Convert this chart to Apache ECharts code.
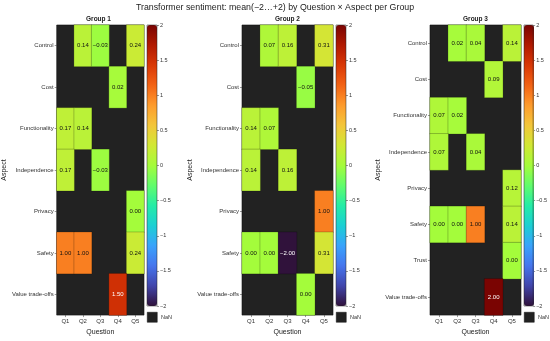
<!DOCTYPE html>
<html><head><meta charset="utf-8">
<script src="https://cdn.jsdelivr.net/npm/echarts@6/dist/echarts.min.js"></script>
<style>html,body{margin:0;padding:0;background:#fff}#c{width:550px;height:341px}</style>
</head><body><div id="c"></div>
<script>
const questions = ['Q1','Q2','Q3','Q4','Q5'];
const aspects12 = ['Control','Cost','Functionality','Independence','Privacy','Safety','Value trade-offs'];
const aspects3 = ['Control','Cost','Functionality','Independence','Privacy','Safety','Trust','Value trade-offs'];
const groupNames = ['Group 1','Group 2','Group 3'];
const cbTicks = [-2,-1.5,-1,-0.5,0,0.5,1,1.5,2];
// rows follow aspect order, columns Q1..Q5; null = NaN
const group1 = [
  [null,0.14,-0.03,null,0.24],
  [null,null,null,0.02,null],
  [0.17,0.14,null,null,null],
  [0.17,null,-0.03,null,null],
  [null,null,null,null,0.00],
  [1.00,1.00,null,null,0.24],
  [null,null,null,1.50,null]
];
const group2 = [
  [null,0.07,0.16,null,0.31],
  [null,null,null,-0.05,null],
  [0.14,0.07,null,null,null],
  [0.14,null,0.16,null,null],
  [null,null,null,null,1.00],
  [0.00,0.00,-2.00,null,0.31],
  [null,null,null,0.00,null]
];
const group3 = [
  [null,0.02,0.04,null,0.14],
  [null,null,null,0.09,null],
  [0.07,0.02,null,null,null],
  [0.07,null,0.04,null,null],
  [null,null,null,null,0.12],
  [0.00,0.00,1.00,null,0.14],
  [null,null,null,null,0.00],
  [null,null,null,2.00,null]
];
const turbo = ['#30123b','#4145ab','#4675ed','#39a2fc','#1bcfd4','#24eca6','#61fc6c','#a4fc3b','#d1e834','#f3c63a','#fe9b2d','#f36315','#d93806','#b11901','#7a0402'];

const FONT = 'Liberation Sans';
const groups = [group1, group2, group3];
const aspectsList = [aspects12, aspects12, aspects3];
const gridLeft = [53, 242, 430];
const gridW = 91, gridTop = 25, gridH = 297;
const cbLeft = [147, 336, 524], cbW = 10, cbH = 281;
const nameGaps = [45, 47, 47];

const fmt = v => (v < 0 ? '\u2212' : '') + Math.abs(v).toFixed(2);

const grids = [], xAxes = [], yAxes = [], series = [], visualMaps = [], titles = [], graphics = [];
titles.push({text:'Transformer sentiment: mean(\u22122\u2026+2) by Question \u00d7 Aspect per Group', left:'center', top:3, padding:0,
  textStyle:{fontFamily:FONT, fontSize:8.8, fontWeight:'normal', color:'#222'}});

for (let g = 0; g < 3; g++) {
  grids.push({left:gridLeft[g], top:gridTop, width:gridW, height:gridH, show:true, backgroundColor:'#222222', borderColor:'#111', borderWidth:0.6});
  xAxes.push({type:'category', gridIndex:g, data:questions, name:'Question', nameLocation:'middle', nameGap:12,
    nameTextStyle:{fontFamily:FONT, fontSize:7, color:'#222'},
    axisLine:{show:false}, axisTick:{show:true, length:2, alignWithLabel:true, lineStyle:{color:'#333', width:0.5}},
    axisLabel:{fontFamily:FONT, fontSize:6, color:'#333', margin:3}, splitLine:{show:false}});
  yAxes.push({type:'category', gridIndex:g, data:aspectsList[g], inverse:true, name:'Aspect', nameLocation:'middle', nameGap:nameGaps[g],
    nameRotate:90, nameTextStyle:{fontFamily:FONT, fontSize:7, color:'#222'},
    axisLine:{show:false}, axisTick:{show:true, length:2, alignWithLabel:true, lineStyle:{color:'#333', width:0.5}},
    axisLabel:{fontFamily:FONT, fontSize:6, color:'#333', margin:3}, splitLine:{show:false}});
  const data = [];
  groups[g].forEach((row, r) => row.forEach((v, c) => {
    if (v !== null) data.push({value:[c, r, v], label:{color: (v >= 1.25 || v <= -1.25) ? '#fff' : '#111'}});
  }));
  series.push({type:'heatmap', xAxisIndex:g, yAxisIndex:g, data:data,
    itemStyle:{borderColor:'rgba(0,0,0,0.35)', borderWidth:0.6},
    label:{show:true, fontFamily:FONT, fontSize:6, formatter: p => fmt(p.value[2])},
    emphasis:{disabled:true}});
  visualMaps.push({type:'continuous', seriesIndex:g, min:-2, max:2, orient:'vertical', left:cbLeft[g], top:gridTop,
    itemWidth:cbW, itemHeight:cbH, padding:0, calculable:false, hoverLink:false, inRange:{color:turbo}, text:null,
    textStyle:{fontSize:0}});
  titles.push({text:groupNames[g], left:gridLeft[g] + gridW/2, textAlign:'center', top:16, padding:0,
    textStyle:{fontFamily:FONT, fontSize:6.5, fontWeight:'bold', color:'#222'}});
  graphics.push({type:'rect', left:cbLeft[g], top:312, shape:{width:cbW, height:10}, style:{fill:'#222222', stroke:'#111', lineWidth:0.5}});
  graphics.push({type:'text', left:cbLeft[g] + cbW + 4, top:314, style:{text:'NaN', font:'5.5px "Liberation Sans"', fill:'#333'}});
}
for (let g = 0; g < 3; g++) {
  const gi = 3 + g;
  grids.push({left:cbLeft[g], top:gridTop, width:cbW, height:cbH, show:true, backgroundColor:'transparent', borderColor:'#222', borderWidth:0.5, z:10});
  xAxes.push({type:'category', gridIndex:gi, data:[''], show:false});
  yAxes.push({type:'value', gridIndex:gi, min:-2, max:2, interval:0.5, position:'right',
    axisLine:{show:false}, splitLine:{show:false},
    axisTick:{show:true, length:2, lineStyle:{color:'#333', width:0.5}},
    axisLabel:{fontFamily:FONT, fontSize:5.5, color:'#333', margin:3, formatter: v => (v < 0 ? '\u2212' : '') + Math.abs(v)}});
}

const chart = echarts.init(document.getElementById('c'), null, {renderer:'canvas'});
chart.setOption({animation:false, backgroundColor:'#fff', title:titles, grid:grids, xAxis:xAxes, yAxis:yAxes,
  visualMap:visualMaps, series:series, graphic:graphics});
</script></body></html>
